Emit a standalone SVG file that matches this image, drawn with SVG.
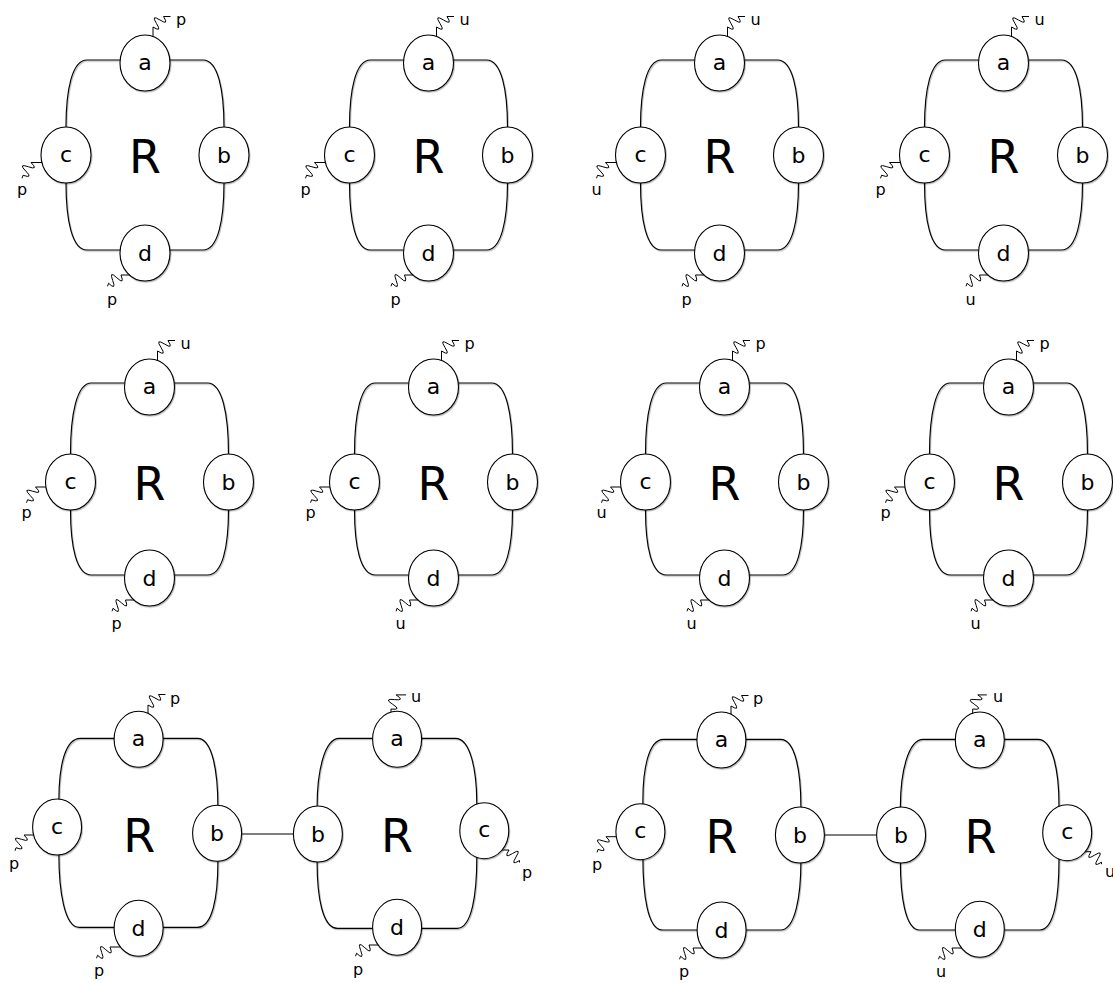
<svg xmlns="http://www.w3.org/2000/svg" width="1113" height="983" viewBox="0 0 1113 983">
<style>
.o{fill:none;stroke:#000;stroke-width:1.15;filter:url(#sh)}
.k{fill:none;stroke:#000;stroke-width:1.15}
.w{fill:none;stroke:#000;stroke-width:1}
.e{fill:#fff;stroke:#000;stroke-width:1.1;filter:url(#sh)}
text{font-family:"DejaVu Sans",Verdana,sans-serif;fill:#000}
.t{font-size:22px;text-anchor:middle}
.R{font-size:46px;text-anchor:middle}
.l{font-size:16px}
</style>
<defs>
<filter id="sh" filterUnits="userSpaceOnUse" x="-300" y="-300" width="1800" height="1600"><feDropShadow dx="0.8" dy="1.2" stdDeviation="0.7" flood-color="#000" flood-opacity="0.3"/></filter>
</defs>
<rect width="1113" height="983" fill="#fff"/>
<g id="connectors">
<g transform="translate(145,63)"><path class="o" d="M-58 -3C-73 -3 -79 27 -79 64L-79 120C-79 157 -73 187 -58 187L58 187C73 187 79 157 79 120L79 64C79 27 73 -3 58 -3Z"/><path class="w" d="M8 -25l0 -11q9.55 6 3.5 -3.5t3.5 -3.5t3.5 -3.5l7 0"/><path class="w" d="M-100 99.5l-14 0q8 8 -2.65 4.25t-2.65 4.25t-2.65 4.25l-1 3"/><path class="w" d="M-12 212l-12 0q4 10.5 -4.15 2.75t-4.15 2.75t-4.15 2.75l-1 3"/></g>
<g transform="translate(428.5,63)"><path class="o" d="M-58 -3C-73 -3 -79 27 -79 64L-79 120C-79 157 -73 187 -58 187L58 187C73 187 79 157 79 120L79 64C79 27 73 -3 58 -3Z"/><path class="w" d="M8 -25l0 -11q9.55 6 3.5 -3.5t3.5 -3.5t3.5 -3.5l7 0"/><path class="w" d="M-100 99.5l-14 0q8 8 -2.65 4.25t-2.65 4.25t-2.65 4.25l-1 3"/><path class="w" d="M-12 212l-12 0q4 10.5 -4.15 2.75t-4.15 2.75t-4.15 2.75l-1 3"/></g>
<g transform="translate(719.5,63)"><path class="o" d="M-58 -3C-73 -3 -79 27 -79 64L-79 120C-79 157 -73 187 -58 187L58 187C73 187 79 157 79 120L79 64C79 27 73 -3 58 -3Z"/><path class="w" d="M8 -25l0 -11q9.55 6 3.5 -3.5t3.5 -3.5t3.5 -3.5l7 0"/><path class="w" d="M-100 99.5l-14 0q8 8 -2.65 4.25t-2.65 4.25t-2.65 4.25l-1 3"/><path class="w" d="M-12 212l-12 0q4 10.5 -4.15 2.75t-4.15 2.75t-4.15 2.75l-1 3"/></g>
<g transform="translate(1003.5,63)"><path class="o" d="M-58 -3C-73 -3 -79 27 -79 64L-79 120C-79 157 -73 187 -58 187L58 187C73 187 79 157 79 120L79 64C79 27 73 -3 58 -3Z"/><path class="w" d="M8 -25l0 -11q9.55 6 3.5 -3.5t3.5 -3.5t3.5 -3.5l7 0"/><path class="w" d="M-100 99.5l-14 0q8 8 -2.65 4.25t-2.65 4.25t-2.65 4.25l-1 3"/><path class="w" d="M-12 212l-12 0q4 10.5 -4.15 2.75t-4.15 2.75t-4.15 2.75l-1 3"/></g>
<g transform="translate(149.5,387)"><path class="o" d="M-58 -4C-73 -4 -79 28 -79 67L-79 123C-79 160 -73 188 -58 188L58 188C73 188 79 160 79 123L79 67C79 28 73 -4 58 -4Z"/><path class="w" d="M8 -25l0 -11q9.55 6 3.5 -3.5t3.5 -3.5t3.5 -3.5l7 0"/><path class="w" d="M-100 100l-14 0q8 8 -2.65 4.25t-2.65 4.25t-2.65 4.25l-1 3"/><path class="w" d="M-12 213l-12 0q4 10.5 -4.15 2.75t-4.15 2.75t-4.15 2.75l-1 3"/></g>
<g transform="translate(433.5,387)"><path class="o" d="M-58 -4C-73 -4 -79 28 -79 67L-79 123C-79 160 -73 188 -58 188L58 188C73 188 79 160 79 123L79 67C79 28 73 -4 58 -4Z"/><path class="w" d="M8 -25l0 -11q9.55 6 3.5 -3.5t3.5 -3.5t3.5 -3.5l7 0"/><path class="w" d="M-100 100l-14 0q8 8 -2.65 4.25t-2.65 4.25t-2.65 4.25l-1 3"/><path class="w" d="M-12 213l-12 0q4 10.5 -4.15 2.75t-4.15 2.75t-4.15 2.75l-1 3"/></g>
<g transform="translate(724.5,387)"><path class="o" d="M-58 -4C-73 -4 -79 28 -79 67L-79 123C-79 160 -73 188 -58 188L58 188C73 188 79 160 79 123L79 67C79 28 73 -4 58 -4Z"/><path class="w" d="M8 -25l0 -11q9.55 6 3.5 -3.5t3.5 -3.5t3.5 -3.5l7 0"/><path class="w" d="M-100 100l-14 0q8 8 -2.65 4.25t-2.65 4.25t-2.65 4.25l-1 3"/><path class="w" d="M-12 213l-12 0q4 10.5 -4.15 2.75t-4.15 2.75t-4.15 2.75l-1 3"/></g>
<g transform="translate(1008.5,387)"><path class="o" d="M-58 -4C-73 -4 -79 28 -79 67L-79 123C-79 160 -73 188 -58 188L58 188C73 188 79 160 79 123L79 67C79 28 73 -4 58 -4Z"/><path class="w" d="M8 -25l0 -11q9.55 6 3.5 -3.5t3.5 -3.5t3.5 -3.5l7 0"/><path class="w" d="M-100 100l-14 0q8 8 -2.65 4.25t-2.65 4.25t-2.65 4.25l-1 3"/><path class="w" d="M-12 213l-12 0q4 10.5 -4.15 2.75t-4.15 2.75t-4.15 2.75l-1 3"/></g>
<g>
<path class="o" d="M80.4 738.3C65.4 738.3 58.9 765 58.9 800L58.9 855C58.9 890 64.3 927.3 79.3 927.3L197.5 927.3C212.5 927.3 217.9 897 217.9 861.7L217.9 806.7C217.9 772 212.5 738.3 197.5 738.3Z"/>
<path class="w" d="M148 716l0 -11q9.55 6 3.5 -3.5t3.5 -3.5t3.5 -3.5l7 0"/>
<path class="w" d="M36 835l-12 0q8 8 -2.65 4.25t-2.65 4.25t-2.65 4.25l-1 3"/>
<path class="w" d="M123 947l-13 0q4 10.5 -4.15 2.75t-4.15 2.75t-4.15 2.75l-1 3"/>
<path class="k" d="M217 834L318 834"/>
<path class="o" d="M339.3 738.3C324.3 738.3 317.1 772 317.1 806.7L317.1 861.7C317.1 897 322.5 928.3 337.5 928.3L457.1 928.3C472.1 928.3 476.8 893 476.8 858.3L476.8 803.3C476.8 770 470.4 738.3 455.4 738.3Z"/>
<path class="w" d="M391 715l0 -6q11.2 1.4 1.7 -4.7t1.7 -4.7t1.7 -4.7l10 0"/>
<path class="w" d="M500 850l9 0q-6 9.55 3.5 3.5t3.5 3.5t3.5 3.5l0 2"/>
<path class="w" d="M381 945l-12 0q4 10.5 -4.15 2.75t-4.15 2.75t-4.15 2.75l-1 3"/>
</g>
<g>
<path class="o" d="M663.4 739.3C648.4 739.3 642.9 770 642.9 800L642.9 856.7C642.9 893 647.3 930 662.3 930L780.5 930C795.5 930 800.9 895 800.9 861.7L800.9 806.7C800.9 772 795.5 739.3 780.5 739.3Z"/>
<path class="w" d="M731 717l0 -11q9.55 6 3.5 -3.5t3.5 -3.5t3.5 -3.5l7 0"/>
<path class="w" d="M618 836.7l-12 0q8 8 -2.65 4.25t-2.65 4.25t-2.65 4.25l-1 3"/>
<path class="w" d="M706 948l-13 0q4 10.5 -4.15 2.75t-4.15 2.75t-4.15 2.75l-1 3"/>
<path class="k" d="M800 835L901 835"/>
<path class="o" d="M923.3 739.3C908.3 739.3 900.4 772 900.4 806.7L900.4 861.7C900.4 895 905 930 919.8 930L1039.7 930C1054.7 930 1059 895 1059 860L1059 805C1059 772 1053 739.3 1038 739.3Z"/>
<path class="w" d="M972.7 715l0 -6q11.2 1.4 1.7 -4.7t1.7 -4.7t1.7 -4.7l9 0"/>
<path class="w" d="M1084 851.7l7 0q-6 9.55 3.5 3.5t3.5 3.5t3.5 3.5l0 2"/>
<path class="w" d="M964 948l-12 0q4 10.5 -4.15 2.75t-4.15 2.75t-4.15 2.75l-1 3"/>
</g>
</g>

<g id="fig1" transform="translate(145,63)">
<g id="fig1-a"><ellipse class="e" rx="25" ry="28"/><text class="t" y="6.5">a</text></g>
<g id="fig1-c"><ellipse class="e" cx="-79" cy="92" rx="25" ry="28"/><text class="t" x="-79" y="98.5">c</text></g>
<g id="fig1-b"><ellipse class="e" cx="79" cy="92" rx="25" ry="28"/><text class="t" x="79" y="100">b</text></g>
<g id="fig1-d"><ellipse class="e" cy="190" rx="25" ry="28"/><text class="t" y="198">d</text></g>
<text class="R" y="110">R</text>
<text class="l" x="31" y="-38">p</text><text class="l" x="-128" y="132">p</text><text class="l" x="-38" y="242">p</text>
</g>
<g id="fig2" transform="translate(428.5,63)">
<g id="fig2-a"><ellipse class="e" rx="25" ry="28"/><text class="t" y="6.5">a</text></g>
<g id="fig2-c"><ellipse class="e" cx="-79" cy="92" rx="25" ry="28"/><text class="t" x="-79" y="98.5">c</text></g>
<g id="fig2-b"><ellipse class="e" cx="79" cy="92" rx="25" ry="28"/><text class="t" x="79" y="100">b</text></g>
<g id="fig2-d"><ellipse class="e" cy="190" rx="25" ry="28"/><text class="t" y="198">d</text></g>
<text class="R" y="110">R</text>
<text class="l" x="31" y="-38">u</text><text class="l" x="-128" y="132">p</text><text class="l" x="-38" y="242">p</text>
</g>
<g id="fig3" transform="translate(719.5,63)">
<g id="fig3-a"><ellipse class="e" rx="25" ry="28"/><text class="t" y="6.5">a</text></g>
<g id="fig3-c"><ellipse class="e" cx="-79" cy="92" rx="25" ry="28"/><text class="t" x="-79" y="98.5">c</text></g>
<g id="fig3-b"><ellipse class="e" cx="79" cy="92" rx="25" ry="28"/><text class="t" x="79" y="100">b</text></g>
<g id="fig3-d"><ellipse class="e" cy="190" rx="25" ry="28"/><text class="t" y="198">d</text></g>
<text class="R" y="110">R</text>
<text class="l" x="31" y="-38">u</text><text class="l" x="-128" y="132">u</text><text class="l" x="-38" y="242">p</text>
</g>
<g id="fig4" transform="translate(1003.5,63)">
<g id="fig4-a"><ellipse class="e" rx="25" ry="28"/><text class="t" y="6.5">a</text></g>
<g id="fig4-c"><ellipse class="e" cx="-79" cy="92" rx="25" ry="28"/><text class="t" x="-79" y="98.5">c</text></g>
<g id="fig4-b"><ellipse class="e" cx="79" cy="92" rx="25" ry="28"/><text class="t" x="79" y="100">b</text></g>
<g id="fig4-d"><ellipse class="e" cy="190" rx="25" ry="28"/><text class="t" y="198">d</text></g>
<text class="R" y="110">R</text>
<text class="l" x="31" y="-38">u</text><text class="l" x="-128" y="132">p</text><text class="l" x="-38" y="242">u</text>
</g>

<g id="fig5" transform="translate(149.5,387)">
<g id="fig5-a"><ellipse class="e" rx="25" ry="28"/><text class="t" y="6.5">a</text></g>
<g id="fig5-c"><ellipse class="e" cx="-79" cy="95" rx="25" ry="28"/><text class="t" x="-79" y="101.5">c</text></g>
<g id="fig5-b"><ellipse class="e" cx="79" cy="95" rx="25" ry="28"/><text class="t" x="79" y="103">b</text></g>
<g id="fig5-d"><ellipse class="e" cy="191" rx="25" ry="28"/><text class="t" y="199">d</text></g>
<text class="R" y="113">R</text>
<text class="l" x="31" y="-38">u</text><text class="l" x="-128" y="131">p</text><text class="l" x="-38" y="242">p</text>
</g>
<g id="fig6" transform="translate(433.5,387)">
<g id="fig6-a"><ellipse class="e" rx="25" ry="28"/><text class="t" y="6.5">a</text></g>
<g id="fig6-c"><ellipse class="e" cx="-79" cy="95" rx="25" ry="28"/><text class="t" x="-79" y="101.5">c</text></g>
<g id="fig6-b"><ellipse class="e" cx="79" cy="95" rx="25" ry="28"/><text class="t" x="79" y="103">b</text></g>
<g id="fig6-d"><ellipse class="e" cy="191" rx="25" ry="28"/><text class="t" y="199">d</text></g>
<text class="R" y="113">R</text>
<text class="l" x="31" y="-38">p</text><text class="l" x="-128" y="131">p</text><text class="l" x="-38" y="242">u</text>
</g>
<g id="fig7" transform="translate(724.5,387)">
<g id="fig7-a"><ellipse class="e" rx="25" ry="28"/><text class="t" y="6.5">a</text></g>
<g id="fig7-c"><ellipse class="e" cx="-79" cy="95" rx="25" ry="28"/><text class="t" x="-79" y="101.5">c</text></g>
<g id="fig7-b"><ellipse class="e" cx="79" cy="95" rx="25" ry="28"/><text class="t" x="79" y="103">b</text></g>
<g id="fig7-d"><ellipse class="e" cy="191" rx="25" ry="28"/><text class="t" y="199">d</text></g>
<text class="R" y="113">R</text>
<text class="l" x="31" y="-38">p</text><text class="l" x="-128" y="131">u</text><text class="l" x="-38" y="242">u</text>
</g>
<g id="fig8" transform="translate(1008.5,387)">
<g id="fig8-a"><ellipse class="e" rx="25" ry="28"/><text class="t" y="6.5">a</text></g>
<g id="fig8-c"><ellipse class="e" cx="-79" cy="95" rx="25" ry="28"/><text class="t" x="-79" y="101.5">c</text></g>
<g id="fig8-b"><ellipse class="e" cx="79" cy="95" rx="25" ry="28"/><text class="t" x="79" y="103">b</text></g>
<g id="fig8-d"><ellipse class="e" cy="191" rx="25" ry="28"/><text class="t" y="199">d</text></g>
<text class="R" y="113">R</text>
<text class="l" x="31" y="-38">p</text><text class="l" x="-128" y="131">p</text><text class="l" x="-38" y="242">u</text>
</g>

<g id="fig9">
<g id="fig9-a"><ellipse class="e" cx="138.6" cy="739.3" rx="24.5" ry="28"/><text class="t" x="138.6" y="745.8">a</text></g>
<g id="fig9-c"><ellipse class="e" cx="57.1" cy="827" rx="24.5" ry="28"/><text class="t" x="57.1" y="833.5">c</text></g>
<g id="fig9-b"><ellipse class="e" cx="217.1" cy="833.3" rx="24.5" ry="28"/><text class="t" x="217.1" y="841.3">b</text></g>
<g id="fig9-d"><ellipse class="e" cx="138.6" cy="928.3" rx="24.5" ry="28"/><text class="t" x="138.6" y="936.3">d</text></g>
<text class="R" x="139.3" y="852">R</text>
<text class="l" x="170" y="704">p</text><text class="l" x="9" y="869">p</text><text class="l" x="94" y="976">p</text>
</g>
<g id="fig10">
<g id="fig10-b"><ellipse class="e" cx="317.9" cy="834" rx="24.5" ry="28"/><text class="t" x="317.9" y="842">b</text></g>
<g id="fig10-a"><ellipse class="e" cx="397.1" cy="739.3" rx="24.5" ry="28"/><text class="t" x="397.1" y="745.8">a</text></g>
<g id="fig10-c"><ellipse class="e" cx="484.3" cy="830.7" rx="24.5" ry="28"/><text class="t" x="484.3" y="837.2">c</text></g>
<g id="fig10-d"><ellipse class="e" cx="397.1" cy="927.3" rx="24.5" ry="28"/><text class="t" x="397.1" y="935.3">d</text></g>
<text class="R" x="397.1" y="852">R</text>
<text class="l" x="411" y="702">u</text><text class="l" x="522" y="878">p</text><text class="l" x="353" y="975">p</text>
</g>
<g id="fig11">
<g id="fig11-a"><ellipse class="e" cx="721.4" cy="740" rx="24.5" ry="28"/><text class="t" x="721.4" y="746.5">a</text></g>
<g id="fig11-c"><ellipse class="e" cx="640.4" cy="831.7" rx="24.5" ry="28"/><text class="t" x="640.4" y="838.2">c</text></g>
<g id="fig11-b"><ellipse class="e" cx="799.9" cy="835" rx="24.5" ry="28"/><text class="t" x="799.9" y="843">b</text></g>
<g id="fig11-d"><ellipse class="e" cx="721.6" cy="930" rx="24.5" ry="28"/><text class="t" x="721.6" y="938">d</text></g>
<text class="R" x="721.6" y="853">R</text>
<text class="l" x="753" y="704">p</text><text class="l" x="592" y="870">p</text><text class="l" x="679" y="977">p</text>
</g>
<g id="fig12">
<g id="fig12-b"><ellipse class="e" cx="901.1" cy="835" rx="24.5" ry="28"/><text class="t" x="901.1" y="843">b</text></g>
<g id="fig12-a"><ellipse class="e" cx="979.8" cy="740" rx="24.5" ry="28"/><text class="t" x="979.8" y="746.5">a</text></g>
<g id="fig12-c"><ellipse class="e" cx="1067.2" cy="832.7" rx="24.5" ry="28"/><text class="t" x="1067.2" y="839.2">c</text></g>
<g id="fig12-d"><ellipse class="e" cx="979.8" cy="929.3" rx="24.5" ry="28"/><text class="t" x="979.8" y="937.3">d</text></g>
<text class="R" x="980.5" y="853">R</text>
<text class="l" x="993" y="702">u</text><text class="l" x="1105" y="877">u</text><text class="l" x="936" y="977">u</text>
</g>
</svg>
